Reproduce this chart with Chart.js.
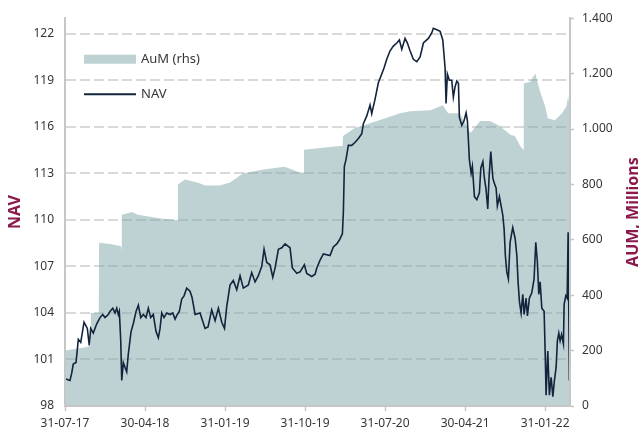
<!DOCTYPE html>
<html>
<head>
<meta charset="utf-8">
<script src="https://cdn.jsdelivr.net/npm/chart.js@4.4.1/dist/chart.umd.min.js"></script>
<style>
  html, body { margin: 0; padding: 0; background: #fff; }
  #wrap { width: 639px; height: 433px; }
</style>
</head>
<body>
<div id="wrap"><canvas id="navChart" width="639" height="433"></canvas></div>
<script>
// x = months after 31-07-17
const xLabels = ['31-07-17', '30-04-18', '31-01-19', '31-10-19', '31-07-20', '30-04-21', '31-01-22'];
const xTickMonths = [0, 9, 18, 27, 36, 45, 54];
const navTicks = [98, 101, 104, 107, 110, 113, 116, 119, 122];
const aumTicks = [0, 200, 400, 600, 800, 1000, 1200, 1400];

// AuM (rhs), millions
const aumMonths = [0, 1.5, 2.6, 2.88, 2.9, 3.8, 3.83, 5.06, 6.19, 6.33, 6.37, 6.4, 7.54, 8.2, 9.56, 11.2, 12.65, 12.7,
  13.5, 15.0, 15.75, 17.4, 18.56, 20.0, 22.3, 24.7, 26.4, 26.84, 26.88, 30.9, 31.22, 31.27, 32.6, 34.3, 36.0,
  37.7, 38.8, 41.1, 42.5, 43.1, 44.4, 45.6, 46.7, 47.8, 48.9, 50.1, 50.6, 51.2, 51.55, 51.6, 52.3, 52.9, 53.4,
  54.0, 54.3, 55.1, 55.9, 56.4, 56.6, 56.8];
const aumValues = [200, 208, 214, 218, 336, 336, 589, 585, 578, 575, 560, 690, 700, 690, 683, 675, 671, 800,
  818, 806, 796, 796, 807, 839, 854, 864, 843, 843, 925, 939, 939, 975, 1004, 1021, 1039,
  1057, 1064, 1068, 1086, 1057, 1057, 986, 1029, 1029, 1011, 979, 975, 939, 925, 1164, 1170, 1200, 1139,
  1082, 1039, 1032, 1057, 1082, 1118, 1060];

// NAV
const navMonths = [0, 0.56, 0.75, 0.93, 1.24, 1.5, 1.77, 2.14, 2.51, 2.73, 2.89, 3.18, 3.57, 3.94, 4.24, 4.5,
  4.87, 5.06, 5.37, 5.63, 5.82, 6.0, 6.11, 6.27, 6.38, 6.56, 6.75, 6.94, 7.12, 7.43, 7.68, 7.99, 8.25, 8.52,
  8.81, 9.11, 9.37, 9.64, 9.93, 10.24, 10.5, 10.69, 10.88, 11.14, 11.44, 11.81, 12.12, 12.38, 12.63, 12.86,
  13.13, 13.39, 13.69, 14.06, 14.29, 14.63, 15.19, 15.75, 16.09, 16.5, 16.88, 17.25, 17.63, 17.94, 18.19,
  18.56, 18.93, 19.32, 19.69, 20.06, 20.62, 21.0, 21.38, 21.75, 22.13, 22.39, 22.69, 23.06, 23.37, 23.63,
  24.0, 24.38, 24.75, 25.31, 25.57, 26.07, 26.44, 26.92, 27.19, 27.75, 28.13, 28.32, 28.69, 29.06, 29.81,
  30.18, 30.57, 30.86, 31.2, 31.31, 31.42, 31.61, 31.87, 32.25, 32.63, 33.0, 33.38, 33.56, 33.94, 34.31,
  34.5, 34.88, 35.25, 35.63, 35.89, 36.19, 36.56, 36.93, 37.32, 37.61, 37.88, 38.25, 38.51, 38.81, 39.18,
  39.57, 39.94, 40.31, 40.87, 41.25, 41.43, 41.82, 42.19, 42.49, 42.75, 42.86, 43.01, 43.23, 43.5, 43.68,
  43.88, 44.07, 44.25, 44.36, 44.63, 44.89, 45.11, 45.26, 45.48, 45.68, 45.82, 46.05, 46.32, 46.61, 46.77,
  47.0, 47.17, 47.36, 47.55, 47.7, 47.89, 48.12, 48.26, 48.49, 48.63, 48.86, 49.05, 49.24, 49.39, 49.53,
  49.69, 49.87, 50.06, 50.36, 50.63, 50.82, 50.96, 51.11, 51.3, 51.49, 51.64, 51.86, 52.01, 52.23, 52.5,
  52.76, 52.95, 53.13, 53.29, 53.44, 53.63, 53.89, 54.03, 54.11, 54.3, 54.48, 54.68, 54.87, 55.05, 55.24,
  55.38, 55.54, 55.69, 55.85, 56.06, 56.14, 56.33, 56.48, 56.59, 56.73, 56.8];
const navValues = [99.76, 99.65, 100.1, 100.7, 100.8, 102.3, 102.1, 103.4, 103.0, 101.9, 103.0, 102.7, 103.3,
  103.7, 103.9, 103.7, 103.9, 104.1, 104.3, 104.0, 104.3, 103.9, 104.1, 102.2, 99.65, 100.8, 100.5, 100.2,
  101.35, 102.8, 103.3, 104.1, 104.5, 103.7, 103.9, 103.7, 104.3, 103.7, 103.9, 102.8, 102.4, 103.0, 104.0,
  103.7, 104.0, 103.9, 104.0, 103.6, 103.9, 104.1, 104.9, 105.1, 105.6, 105.4, 105.0, 103.9, 104.0, 103.0,
  103.1, 104.2, 103.5, 104.3, 103.4, 103.0, 104.4, 105.8, 106.1, 105.5, 106.4, 105.6, 105.8, 106.6, 106.0,
  106.4, 107.0, 108.1, 107.25, 107.1, 106.3, 106.9, 108.1, 108.2, 108.45, 108.2, 106.9, 106.55, 106.65,
  107.1, 106.55, 106.35, 106.5, 106.9, 107.4, 107.8, 107.7, 108.25, 108.45, 108.7, 109.1, 110.5, 113.45,
  113.9, 114.8, 114.8, 115.0, 115.25, 115.55, 116.2, 116.7, 117.4, 116.85, 117.8, 118.85, 119.4, 119.8,
  120.35, 120.9, 121.2, 121.4, 121.6, 121.0, 121.7, 121.4, 120.9, 120.35, 120.2, 120.5, 121.4, 121.7,
  122.05, 122.35, 122.25, 122.15, 121.6, 119.8, 117.5, 119.4, 119.0, 119.0, 117.9, 118.6, 118.95, 118.8,
  116.6, 116.1, 116.4, 116.9, 116.4, 113.9, 113.0, 113.45, 111.5, 111.3, 111.75, 113.35, 113.75, 112.7,
  111.95, 110.7, 112.8, 114.4, 112.7, 112.4, 112.05, 110.9, 111.5, 110.9, 110.3, 109.4, 107.7, 106.65,
  106.2, 108.55, 109.5, 108.8, 107.7, 106.0, 104.75, 104.0, 105.2, 103.9, 104.95, 103.8, 104.95, 105.3,
  106.2, 108.55, 107.3, 105.2, 106.0, 104.3, 104.1, 100.9, 98.7, 101.55, 98.7, 99.85, 98.6, 99.65, 100.5,
  102.2, 102.7, 102.2, 102.6, 102.0, 104.55, 105.1, 104.95, 109.2, 99.65, 101.0];

const fontFamily = '"Noto Sans", "Open Sans", sans-serif';
const textColor = '#363636';
const axisColor = '#c6c6c6';
const titleColor = '#8b1a4b';
// half transparent so the dashed grid shows through the area
const fillColor = 'rgba(127, 165, 167, 0.5)';
const navColor = '#13243d';

function aumLabel(v) {
  if (v < 1000) return String(v);
  return Math.floor(v / 1000) + '.' + String(v % 1000).padStart(3, '0');
}

// legend inside the plot, top-left
const insideLegend = {
  id: 'insideLegend',
  afterDraw(chart) {
    const { ctx, chartArea } = chart;
    const x = chartArea.left + 19;
    ctx.save();
    ctx.font = '13px ' + fontFamily;
    ctx.textBaseline = 'middle';
    chart.data.datasets.forEach((ds, i) => {
      const y = chartArea.top + 41 + i * 35;
      if (ds.fill) {
        ctx.fillStyle = ds.backgroundColor;
        ctx.fillRect(x, y - 4.5, 52, 9);
      } else {
        ctx.strokeStyle = ds.borderColor;
        ctx.lineWidth = 2;
        ctx.beginPath();
        ctx.moveTo(x, y);
        ctx.lineTo(x + 52, y);
        ctx.stroke();
      }
      ctx.fillStyle = textColor;
      ctx.fillText(ds.label, x + 57, y);
    });
    ctx.restore();
  }
};

// right axis title, reading bottom to top
const rightTitle = {
  id: 'rightTitle',
  afterDraw(chart) {
    const { ctx, chartArea } = chart;
    ctx.save();
    ctx.translate(633, (chartArea.top + chartArea.bottom) / 2);
    ctx.rotate(-Math.PI / 2);
    ctx.font = 'bold 16px ' + fontFamily;
    ctx.fillStyle = titleColor;
    ctx.textAlign = 'center';
    ctx.textBaseline = 'middle';
    ctx.fillText('AUM, Millions', 0, 0);
    ctx.restore();
  }
};

Chart.defaults.font.family = fontFamily;
Chart.defaults.font.size = 12;
Chart.defaults.color = textColor;

new Chart(document.getElementById('navChart'), {
  type: 'line',
  data: {
    datasets: [
      {
        label: 'AuM (rhs)',
        yAxisID: 'y1',
        data: aumMonths.map((m, i) => ({ x: m, y: aumValues[i] })),
        fill: 'origin',
        backgroundColor: fillColor,
        borderWidth: 0,
        pointRadius: 0,
        order: 2
      },
      {
        label: 'NAV',
        yAxisID: 'y',
        data: navMonths.map((m, i) => ({ x: m, y: navValues[i] })),
        fill: false,
        borderColor: navColor,
        borderWidth: 1.6,
        pointRadius: 0,
        order: 1
      }
    ]
  },
  options: {
    responsive: false,
    animation: false,
    devicePixelRatio: 1,
    layout: { padding: { top: 14, left: 0, right: 0, bottom: 0 } },
    plugins: {
      legend: { display: false },
      tooltip: { enabled: false }
    },
    scales: {
      x: {
        type: 'linear',
        min: 0,
        max: 56.8,
        afterBuildTicks: s => { s.ticks = xTickMonths.map(v => ({ value: v })); },
        afterFit: s => { s.height = 27; },
        ticks: {
          autoSkip: false,
          maxRotation: 0,
          padding: 5,
          callback: v => xLabels[xTickMonths.indexOf(v)]
        },
        grid: { drawOnChartArea: false, drawTicks: true, tickLength: 5, tickColor: axisColor, tickWidth: 1.5 },
        border: { display: true, color: axisColor, width: 2, z: 1 }
      },
      y: {
        position: 'left',
        min: 98,
        max: 123,
        afterBuildTicks: s => { s.ticks = navTicks.map(v => ({ value: v })); },
        afterFit: s => { s.width = 65; },
        ticks: { padding: 11 },
        grid: {
          drawTicks: false,
          lineWidth: 2,
          color: c => (c.tick && c.tick.value === 98 ? 'rgba(0,0,0,0)' : '#d9d9d9')
        },
        border: { display: true, color: axisColor, width: 2, dash: [10, 4], z: 1 },
        title: {
          display: true,
          text: 'NAV',
          color: titleColor,
          font: { size: 16, weight: 'bold' },
          padding: { top: 6, bottom: 0 }
        }
      },
      y1: {
        position: 'right',
        min: 0,
        max: 1400,
        afterBuildTicks: s => { s.ticks = aumTicks.map(v => ({ value: v })); },
        afterFit: s => { s.width = 69; },
        ticks: { padding: 8, callback: v => aumLabel(v) },
        grid: { drawOnChartArea: false, drawTicks: true, tickLength: 4, tickColor: axisColor, tickWidth: 1.5 },
        border: { display: true, color: axisColor, width: 2, z: 1 }
      }
    }
  },
  plugins: [insideLegend, rightTitle]
});
</script>
</body>
</html>
